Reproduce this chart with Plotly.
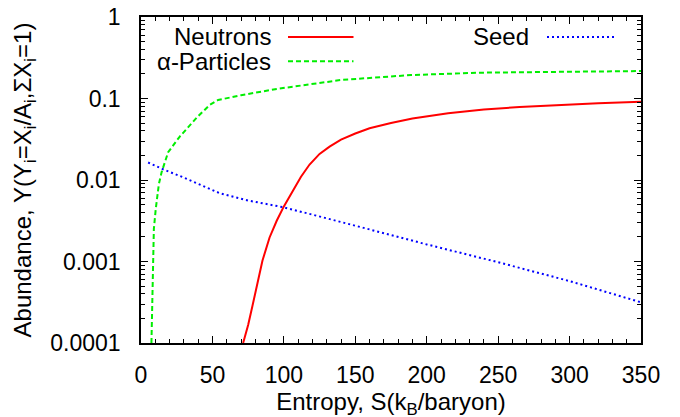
import plotly.graph_objects as go

# ---- data ----
seed_s = [5, 15, 30, 45, 55, 75, 100, 150, 200, 250, 300, 350]
seed_y = [0.0164, 0.01365, 0.0107, 0.0083, 0.0069, 0.0056, 0.00462, 0.00275, 0.00162, 0.00098, 0.000575, 0.000316]

neut_s = [71.5, 75, 78, 82, 85, 90, 95, 100, 106, 112, 118, 125, 132, 140, 150, 160, 175, 190,
          215, 240, 265, 290, 320, 350]
neut_y = [1.0e-4, 1.66e-4, 2.85e-4, 6.03e-4, 1.023e-3, 1.972e-3, 3.16e-3, 4.74e-3, 7.24e-3, 0.01096,
          0.01549, 0.0209, 0.0257, 0.0313, 0.0372, 0.0432, 0.0501, 0.0569, 0.0661, 0.0733, 0.0785,
          0.0832, 0.0875, 0.0914]

alpha_s = [7.3, 7.8, 8.3, 9.0, 10.3, 12.5, 14.5, 19, 27, 39, 48, 54, 70, 95, 140, 189, 238, 288, 350]
alpha_y = [1e-4, 3.16e-4, 1e-3, 2.51e-3, 4.37e-3, 8.9e-3, 0.0126, 0.0219, 0.0339, 0.0582, 0.0832, 0.0959,
           0.1096, 0.131, 0.1687, 0.194, 0.2075, 0.2133, 0.2173]

x_ticks = [0, 50, 100, 150, 200, 250, 300, 350]
y_ticks = [1e-4, 1e-3, 1e-2, 1e-1, 1]
y_tick_text = ["0.0001", "0.001", "0.01", "0.1", "1"]

series_names = ["Neutrons", "α-Particles", "Seed"]

FONT = "Liberation Sans, Arial, sans-serif"
RED = "#ff0000"
GREEN = "#00ee00"
BLUE = "#0000ff"

fig = go.Figure()
fig.add_trace(go.Scatter(x=neut_s, y=neut_y, mode="lines", name=series_names[0],
                         line=dict(color=RED, width=2)))
fig.add_trace(go.Scatter(x=alpha_s, y=alpha_y, mode="lines", name=series_names[1],
                         line=dict(color=GREEN, width=2, dash="5px,3px")))
fig.add_trace(go.Scatter(x=seed_s, y=seed_y, mode="lines", name=series_names[2],
                         line=dict(color=BLUE, width=2, dash="2px,3px")))

# gnuplot-style key: text right-aligned, sample line to the right
key = [
    (series_names[0], 0.263, 0.294, 0.425, 0.939, RED, "solid"),
    (series_names[1], 0.263, 0.294, 0.425, 0.864, GREEN, "5px,3px"),
    (series_names[2], 0.780, 0.812, 0.946, 0.939, BLUE, "2px,3px"),
]
for name, tx, x0, x1, yy, col, dash in key:
    fig.add_annotation(x=tx, y=yy, xref="paper", yref="paper", text=name, showarrow=False,
                       xanchor="right", yanchor="middle", font=dict(family=FONT, size=24, color="black"))
    fig.add_shape(type="line", xref="paper", yref="paper", x0=x0, x1=x1, y0=yy, y1=yy,
                  line=dict(color=col, width=2, dash=dash))

# the page body adds an 8px offset, so margins are shifted to compensate
fig.update_layout(
    width=680, height=417,
    margin=dict(l=133, r=47, t=9, b=82),
    paper_bgcolor="white", plot_bgcolor="white",
    showlegend=False,
    font=dict(family=FONT, size=23, color="black"),
)
fig.update_xaxes(
    range=[0, 350], tickmode="array", tickvals=x_ticks, automargin=False,
    ticks="inside", ticklen=7, tickwidth=1, tickcolor="black",
    minor=dict(ticks="inside", ticklen=4, dtick=10, tickcolor="black", showgrid=False),
    showline=True, linecolor="black", linewidth=1.5, mirror="allticks",
    showgrid=False, zeroline=False, ticklabelstandoff=11, ticklabeloverflow="allow",
    title=dict(text="Entropy, S(k<sub>B</sub>/baryon)", standoff=0, font=dict(size=24)),
    tickfont=dict(size=23),
)
fig.update_yaxes(
    type="log", range=[-4, 0], tickmode="array", tickvals=y_ticks, ticktext=y_tick_text,
    automargin=False,
    ticks="inside", ticklen=7, tickwidth=1, tickcolor="black",
    minor=dict(ticks="inside", ticklen=4, dtick="D1", tickcolor="black", showgrid=False),
    showline=True, linecolor="black", linewidth=1.5, mirror="allticks",
    showgrid=False, zeroline=False, ticklabelstandoff=14, ticklabeloverflow="allow",
    title=dict(text="Abundance, Y(Y<sub>i</sub>=X<sub>i</sub>/A<sub>i</sub>,ΣX<sub>i</sub>=1)",
               standoff=12, font=dict(size=24)),
    tickfont=dict(size=23),
)

fig.write_html("out.html")
